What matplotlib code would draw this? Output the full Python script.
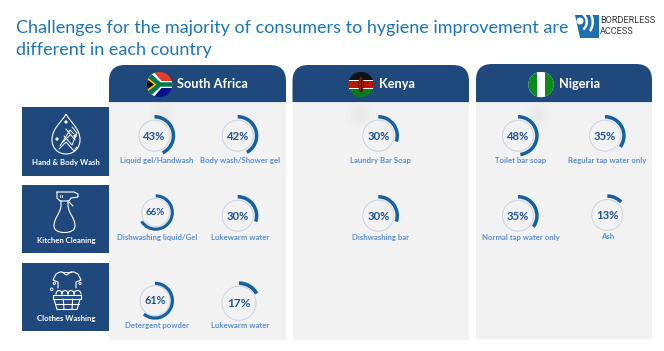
import numpy as np
import matplotlib
matplotlib.use("Agg")
import matplotlib.pyplot as plt
from matplotlib.patches import Wedge, Circle, Rectangle, PathPatch, Polygon, Ellipse
from matplotlib.path import Path

title_lines = ["Challenges for the majority of consumers to hygiene improvement are", "different in each country"]
countries = ["South Africa", "Kenya", "Nigeria"]
categories = ["Hand & Body Wash", "Kitchen Cleaning", "Clothes Washing"]
labels = ["Liquid gel/Handwash", "Body wash/Shower gel", "Laundry Bar Soap", "Toilet bar soap", "Regular tap water only",
          "Dishwashing liquid/Gel", "Lukewarm water", "Dishwashing bar", "Normal tap water only", "Ash",
          "Detergent powder", "Lukewarm water"]
values = [43, 42, 30, 48, 35, 66, 30, 30, 35, 13, 61, 17]

NAVY = "#1F497D"; ARC = "#1560A0"; LAB = "#5B8FCB"; PANEL = "#F2F2F2"; TITLE = "#1B75BB"; RING = "#C9D3E2"; NUM = "#1F5490"
FONT = "Lato"

fig = plt.figure(figsize=(6.64, 3.51), dpi=100, facecolor="white")
ax = fig.add_axes([0, 0, 1, 1]); ax.set_xlim(0, 664); ax.set_ylim(351, 0); ax.axis("off")

ax.text(16, 27.5, title_lines[0], fontsize=13.0, color=TITLE, family=FONT, va="center", ha="left")
ax.text(16, 50.5, title_lines[1], fontsize=13.0, color=TITLE, family=FONT, va="center", ha="left")

panel_x = [(109, 286, 65, 340), (292.5, 469, 65, 340), (476, 652, 64, 338.5)]
def header(x0, x1, y0, y1, r=16):
    v = [(x0, y1), (x0, y0+r), (x0, y0), (x0+r, y0), (x1-r, y0), (x1, y0), (x1, y0+r), (x1, y1), (x0, y1)]
    c = [Path.MOVETO, Path.LINETO, Path.CURVE3, Path.CURVE3, Path.LINETO, Path.CURVE3, Path.CURVE3, Path.LINETO, Path.CLOSEPOLY]
    return PathPatch(Path(v, c), fc=NAVY, ec="none", zorder=2)
for (x0, x1, y0, y1) in panel_x:
    ax.add_patch(Rectangle((x0, y0+20), x1-x0, y1-y0-20, fc=PANEL, ec="none", zorder=1))
    ax.add_patch(header(x0, x1, y0, 102))
    ax.add_patch(Rectangle((x0, 102), x1-x0, 1, fc="#DCE3EC", ec="none", zorder=2))

def flag_clip(cx, cy, r=12.7):
    return Circle((cx, cy), r, transform=ax.transData)
def rect(x, y, w, h, c, clip, z=3):
    p = Rectangle((x, y), w, h, fc=c, ec="none", zorder=z); ax.add_patch(p); p.set_clip_path(clip); return p
def poly(pts, c, clip, z=3):
    p = Polygon(pts, closed=True, fc=c, ec="none", zorder=z); ax.add_patch(p); p.set_clip_path(clip); return p

# South Africa
cx, cy = 159.5, 84.5; cl = flag_clip(cx, cy)
l, t = cx-13, cy-13
rect(l, t, 26, 13, "#E03C31", cl); rect(l, cy, 26, 13, "#001489", cl)
poly([(l, t-1), (l+6, t-1), (l+15, cy-3.5), (l+27, cy-3.5), (l+27, cy+3.5), (l+15, cy+3.5), (l+6, t+27), (l, t+27)], "white", cl, 3)
poly([(l, t+1), (l+3.5, t+1), (l+14, cy-2.2), (l+27, cy-2.2), (l+27, cy+2.2), (l+14, cy+2.2), (l+3.5, t+25), (l, t+25)], "#007749", cl, 4)
poly([(l, t+5), (l+10, cy), (l, t+21)], "#FFB81C", cl, 5)
poly([(l, t+7.5), (l+7.5, cy), (l, t+18.5)], "#111111", cl, 6)
# Kenya
cx, cy = 361, 84.5; cl = flag_clip(cx, cy)
l, t = cx-13, cy-13
rect(l, t, 26, 9, "#111111", cl); rect(l, t+9, 26, 8, "#BB1600", cl); rect(l, t+17, 26, 9, "#0B7A1E", cl)
rect(l, t+8.2, 26, 1, "white", cl, 4); rect(l, t+16.8, 26, 1, "white", cl, 4)
ax.add_patch(Ellipse((cx, cy), 4.5, 15, fc="#BB1600", ec="#222222", lw=.5, zorder=5))
ax.plot([cx, cx], [cy-6, cy+6], color="#111111", lw=.8, zorder=6)
# Nigeria
cx, cy = 541, 84.5; cl = flag_clip(cx, cy)
rect(cx-13, cy-13, 26, 26, "white", cl); rect(cx-13, cy-13, 8.7, 26, "#0B8A1A", cl); rect(cx+4.3, cy-13, 8.7, 26, "#0B8A1A", cl)

name_x = [176.7, 378.5, 559]
for n, x in zip(countries, name_x):
    ax.text(x, 84.5, n, color="white", fontsize=9.2, fontweight="bold", family=FONT, va="center", ha="left", zorder=4)

boxes = [(107, 175.5), (185, 252.7), (263.3, 330.7)]
cat_y = [162.5, 240, 318]
for (y0, y1), c, ty in zip(boxes, categories, cat_y):
    ax.add_patch(Rectangle((22.3, y0), 87, y1-y0, fc=NAVY, ec="none", zorder=2))
    ax.text(66, ty, c, color="white", fontsize=5.6, fontweight="bold", family=FONT, ha="center", va="center", zorder=4)

ic = dict(fc="none", ec="white", lw=0.8, zorder=4)
C4 = Path.CURVE4
def line(xs, ys, lw=.8):
    ax.plot(xs, ys, color="white", lw=lw, zorder=4, solid_capstyle="round", solid_joinstyle="round")
# drop icon
d = Path([(66, 114), (62, 122), (52, 128), (52, 140), (52, 148), (58, 154), (66, 154), (74, 154), (80, 148), (80, 140), (80, 128), (70, 122), (66, 114)],
         [Path.MOVETO]+[C4]*12)
ax.add_patch(PathPatch(d, **ic))
line([59, 66, 74, 77], [149, 142, 151, 147], .7); line([60, 70, 74], [146, 130, 134], .7)
line([72, 77, 72, 64], [127, 133, 145, 136], .7); line([62, 70], [143, 135], .7); line([66, 75], [129, 140], .7)
for (x, y) in [(66, 122), (57, 139), (75, 136)]:
    ax.add_patch(Circle((x, y), 1.6, fc="white", ec="none", zorder=4))
# spray icon
bottle = Path([(61, 200), (61, 206), (60, 214), (54, 218), (54, 226), (54, 230), (58, 232.5), (64.5, 232.5), (71, 232.5), (75, 230), (75, 226), (75, 218), (69, 214), (68, 206), (68, 200)],
              [Path.MOVETO, Path.LINETO]+[C4]*12+[Path.LINETO])
ax.add_patch(PathPatch(bottle, **ic))
line([57, 74, 78, 78, 71, 69, 60, 57, 57], [192, 192, 194, 197, 198, 201, 201, 198, 192])
line([69, 73], [202, 206]); line([60, 60], [195, 197], .7); line([62, 62], [195, 197], .7)
# basket icon
line([62, 60, 56, 53, 58, 58], [272, 272, 274, 280, 282, 288]); line([71, 74, 78, 81, 76, 76], [272, 272, 274, 280, 282, 288])
line([62, 66.5, 71], [272, 275, 272]); line([62, 71], [272, 272], .6)
for x0, x1 in [(56, 62), (62, 68), (68, 74), (74, 81)]:
    t_ = np.linspace(np.pi, 0, 12)
    ax.plot((x0+x1)/2+(x1-x0)/2*np.cos(t_), 294-3.5*np.sin(t_), color="white", lw=.8, zorder=4)
line([53, 81, 81, 53, 53], [294.5, 294.5, 299, 299, 294.5])
line([54, 57, 77, 80], [299, 309.5, 309.5, 299])
line([63.3, 64], [299, 309.5]); line([72.7, 72], [299, 309.5]); line([55.5, 78.5], [304.3, 304.3])
for x, y, r in [(51.7, 289.3, 1.3), (54.3, 283.3, 1.1), (80, 283.3, 1.1)]:
    ax.add_patch(Circle((x, y), r, fc=NAVY, ec="white", lw=.7, zorder=5))

# faint glow above some rings
for gx, gy in [(163, 114), (360, 115), (538, 115)]:
    for r in [14, 11, 8, 5]:
        ax.add_patch(Circle((gx, gy), r, fc="#000000", ec="none", alpha=.007, zorder=1.5))

# donuts
cx_ = [154.5, 237.7, 378.3, 518, 605, 155.7, 237.7, 378.3, 518, 607.3, 155, 239]
cy_ = [135.7, 135.7, 135.7, 135.7, 135.7, 212.5, 215.7, 215.7, 215.7, 215, 300.7, 303.3]
ro_ = [20.7, 20.7, 20.7, 20.7, 20.7, 18.2, 20.7, 20.7, 20.7, 20.7, 19, 22]
ri_ = [15.5, 15.5, 15.5, 15.5, 15.5, 14, 15.5, 15.5, 15.5, 15.5, 15, 17]
fs_ = [8.1, 8.1, 8.1, 8.1, 8.1, 7.0, 8.1, 8.1, 8.1, 8.1, 7.8, 8.6]
lx_ = [156.7, 240.5, 380, 521, 607, 157, 240.5, 381, 521, 607.3, 157, 240.5]
ly_ = [161, 161, 161, 161, 161, 237.5, 237.5, 237.5, 237.5, 236.5, 325.7, 325.7]
for v, l, x, y, ro, ri, fs, lx, ly in zip(values, labels, cx_, cy_, ro_, ri_, fs_, lx_, ly_):
    ax.add_patch(Circle((x, y), ri, fc=PANEL, ec=RING, lw=.7, zorder=3))
    ax.add_patch(Wedge((x, y), ro, -90, -90+360*v/100, width=ro*0.17, fc=ARC, ec="none", zorder=4))
    ax.text(x, y+.3, f"{v}%", color=NUM, fontsize=fs, fontweight="bold", family=FONT, ha="center", va="center", zorder=5)
    ax.text(lx, ly, l, color=LAB, fontsize=5.55, fontweight="bold", family=FONT, ha="center", va="center", zorder=5)

# logo
ax.add_patch(Polygon([(575, 14.5), (598.5, 14.5), (598.5, 38), (580, 38)], closed=True, fc="#1C6FB0", ec="none", zorder=2))
ax.add_patch(Wedge((577, 22), 17, -35, 35, width=2.5, fc="white", ec="none", zorder=3))
ax.add_patch(Wedge((577, 22), 11, -50, 50, width=2.5, fc="white", ec="none", zorder=3))
ax.add_patch(Circle((580, 21), 3.5, fc="white", ec="none", zorder=3))
ax.text(600.3, 20.7, "BORDERLESS", color="#333333", fontsize=6.6, family="Roboto", va="center", ha="left")
ax.text(600.3, 31.3, "ACCESS", color="#333333", fontsize=6.6, family="Roboto", va="center", ha="left")

fig.savefig("out.png", dpi=100)
